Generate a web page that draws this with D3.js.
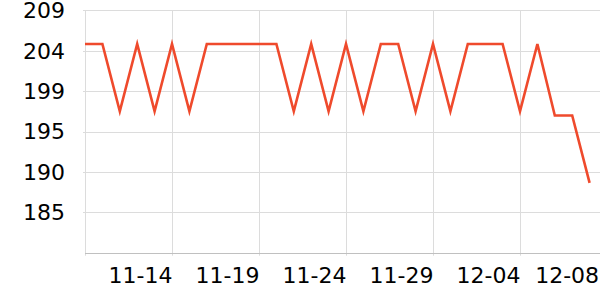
<!DOCTYPE html>
<html>
<head>
<meta charset="utf-8">
<script src="https://cdn.jsdelivr.net/npm/d3@7"></script>
<style>
  body { margin: 0; background: #fff; }
  svg { display: block; font-family: "DejaVu Sans", sans-serif; }
</style>
</head>
<body>
<svg id="chart" width="600" height="300"></svg>
<script>
const dates = ["11-09","11-10","11-11","11-12","11-13","11-14","11-15","11-16","11-17","11-18",
  "11-19","11-20","11-21","11-22","11-23","11-24","11-25","11-26","11-27","11-28",
  "11-29","11-30","12-01","12-02","12-03","12-04","12-05","12-06","12-07","12-08"];
const values = [205,205,197,205,197,205,197,205,205,205,
  205,205,197,205,197,205,197,205,205,197,
  205,197,205,205,205,197,205,196.5,196.5,188.5];
const xTicks = ["11-14","11-19","11-24","11-29","12-04","12-08"];
const yTicks = [185, 189.8, 194.6, 199.4, 204.2, 209];

const svg = d3.select("#chart");
const mLeft = 85, mRight = 600, mTop = 10.3, mBottom = 252.7;

const x = d3.scalePoint().domain(dates).range([mLeft, 589.6]);
const y = d3.scaleLinear().domain([180.2, 209]).range([mBottom, mTop]);

// horizontal grid
svg.append("g").selectAll("line")
  .data(yTicks)
  .join("line")
  .attr("x1", mLeft - 2).attr("x2", mRight)
  .attr("y1", d => Math.round(y(d)) + 0.5).attr("y2", d => Math.round(y(d)) + 0.5)
  .attr("stroke", "#dcdcdc");

// vertical grid (left edge + ticks except last)
const vTicks = [dates[0]].concat(xTicks.slice(0, -1));
svg.append("g").selectAll("line")
  .data(vTicks)
  .join("line")
  .attr("x1", d => Math.round(x(d)) + 0.5).attr("x2", d => Math.round(x(d)) + 0.5)
  .attr("y1", mTop).attr("y2", mBottom + 3)
  .attr("stroke", "#dcdcdc");

// x axis line
svg.append("line")
  .attr("x1", mLeft).attr("x2", mRight)
  .attr("y1", Math.round(mBottom) + 0.5).attr("y2", Math.round(mBottom) + 0.5)
  .attr("stroke", "#c0c0c0");

// y labels
svg.append("g").selectAll("text")
  .data(yTicks)
  .join("text")
  .attr("x", 65)
  .attr("y", d => y(d))
  .attr("dy", "0.36em")
  .attr("text-anchor", "end")
  .attr("font-size", 22)
  .attr("fill", "#000")
  .text(d => d3.format(".0f")(d));

// x labels
svg.append("g").selectAll("text")
  .data(xTicks)
  .join("text")
  .attr("x", d => Math.min(x(d) + 0.5, 599) + (d === "12-08" ? 9 : 0))
  .attr("y", 283)
  .attr("text-anchor", "end")
  .attr("font-size", 22)
  .attr("fill", "#000")
  .text(d => d);

// line
const line = d3.line()
  .x((d, i) => x(dates[i]))
  .y(d => y(d));

svg.append("path")
  .datum(values)
  .attr("d", line)
  .attr("fill", "none")
  .attr("stroke", "#ef4a2c")
  .attr("stroke-width", 2.6)
  .attr("stroke-linejoin", "miter");
</script>
</body>
</html>
